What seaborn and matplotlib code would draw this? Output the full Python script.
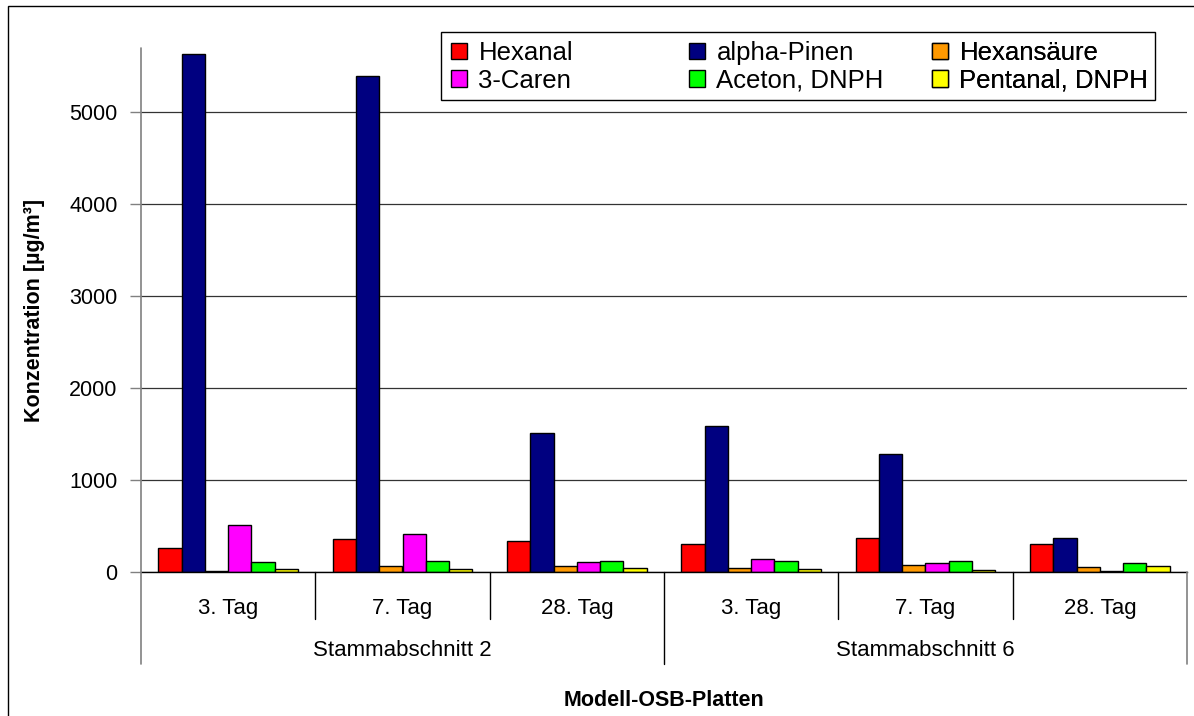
import matplotlib
matplotlib.use("Agg")
import matplotlib.pyplot as plt
import matplotlib.patches as mpatches
from matplotlib.transforms import blended_transform_factory
import pandas as pd
import seaborn as sns

# ---- data -------------------------------------------------------------
sections = ["Stammabschnitt 2", "Stammabschnitt 6"]
days = ["3. Tag", "7. Tag", "28. Tag"]
compounds = ["Hexanal", "alpha-Pinen", "Hexansäure",
             "3-Caren", "Aceton, DNPH", "Pentanal, DNPH"]
colors = ["#FF0000", "#000080", "#FF9900", "#FF00FF", "#00FF00", "#FFFF00"]

# concentrations in µg/m³, order: SA2 (3., 7., 28. Tag), SA6 (3., 7., 28. Tag)
hexanal = [265, 360, 340, 310, 372, 310]
alpha_pinen = [5630, 5390, 1510, 1590, 1280, 372]
hexansaeure = [15, 65, 60, 45, 76, 58]
caren = [515, 410, 110, 140, 94, 15]
aceton = [105, 120, 125, 120, 120, 95]
pentanal = [30, 30, 45, 30, 25, 62]

y_ticks = [0, 1000, 2000, 3000, 4000, 5000]
y_label = "Konzentration [µg/m³]"
x_label = "Modell-OSB-Platten"

series = [hexanal, alpha_pinen, hexansaeure, caren, aceton, pentanal]
samples = [f"{s} / {d}" for s in sections for d in days]
rows = []
for name, vals in zip(compounds, series):
    for smp, v in zip(samples, vals):
        rows.append({"Probe": smp, "Substanz": name, "Wert": v})
df = pd.DataFrame(rows)

# ---- style ------------------------------------------------------------
sns.set_style("white")
plt.rcParams["font.family"] = ["Liberation Sans", "DejaVu Sans"]
plt.rcParams["text.color"] = "black"
plt.rcParams["axes.labelcolor"] = "black"
plt.rcParams["xtick.color"] = "black"
plt.rcParams["ytick.color"] = "black"

W, H = 1194, 716
fig = plt.figure(figsize=(W / 100, H / 100), dpi=100)
ax_left, ax_right, ax_top, ax_bottom = 141, 1187, 48, 572
ax = fig.add_axes([ax_left / W, (H - ax_bottom) / H,
                   (ax_right - ax_left) / W, (ax_bottom - ax_top) / H])

sns.barplot(data=df, x="Probe", y="Wert", hue="Substanz",
            order=samples, hue_order=compounds, palette=colors,
            saturation=1, width=0.8, edgecolor="black", linewidth=1,
            errorbar=None, ax=ax)
if ax.get_legend() is not None:
    ax.get_legend().remove()

ax.set_xlim(-0.5, len(samples) - 0.5)
ax.set_ylim(0, 5700)
ax.set_axisbelow(True)
ax.yaxis.grid(True, color="#333333", linewidth=0.9)
ax.xaxis.grid(False)

# y axis
ax.set_yticks(y_ticks)
ax.set_yticklabels([str(t) for t in y_ticks])
ax.tick_params(axis="y", which="both", left=True, length=8, width=1,
               color="#808080", pad=9, labelsize=15.5, labelcolor="black")
ax.set_ylabel(y_label, fontsize=15.5, fontweight="bold", color="black")
ax.yaxis.set_label_coords((45 - ax_left) / (ax_right - ax_left), 0.5)

# x axis: days as tick labels, sections as second level
ax.set_xticks(range(len(samples)))
ax.set_xticklabels(days * len(sections))
ax.tick_params(axis="x", length=0, pad=18.5, labelsize=16, labelcolor="black")
ax.set_xlabel(x_label, fontsize=15.5, fontweight="bold", color="black")
ax.xaxis.label.set_va("center")
ax_h = ax_bottom - ax_top
ax.xaxis.set_label_coords(0.5, (ax_bottom - 700) / ax_h)

for side in ["top", "right", "left"]:
    ax.spines[side].set_visible(False)
ax.spines["bottom"].set_color("black")
ax.spines["bottom"].set_linewidth(1)

y_inner = (ax_bottom - 619) / ax_h
y_outer = (ax_bottom - 664) / ax_h
y_sect = (ax_bottom - 650) / ax_h

trans = blended_transform_factory(ax.transData, ax.transAxes)
# left axis line, extended through the category area
ax.plot([0, 0], [1, y_outer], transform=ax.transAxes, color="#808080",
        lw=1.2, clip_on=False, zorder=3)
ax.plot([1, 1], [0, y_outer], transform=ax.transAxes, color="#808080",
        lw=1.2, clip_on=False, zorder=3)
n_days = len(days)
for k in range(1, len(samples)):
    xb = k - 0.5
    y_end = y_outer if k % n_days == 0 else y_inner
    ax.plot([xb, xb], [0, y_end], transform=trans, color="black",
            lw=1, clip_on=False, zorder=3)

for i, sec in enumerate(sections):
    xc = i * n_days + (n_days - 1) / 2
    ax.text(xc, y_sect, sec, transform=trans, ha="center", va="center",
            fontsize=16, color="black")

# ---- legend: three columns inside one frame ------------------------------
handles = [mpatches.Patch(facecolor=c, edgecolor="black", linewidth=1,
                          label=n) for n, c in zip(compounds, colors)]
frame = mpatches.Rectangle((441 / W, (H - 100) / H), (1155 - 441) / W,
                           68 / H, transform=fig.transFigure,
                           facecolor="white", edgecolor="black", lw=1,
                           zorder=5, clip_on=False)
ax.add_artist(frame)
col_x = [451, 689, 932]
ncols = 3
for c in range(ncols):
    hs = [handles[c], handles[c + ncols]]
    leg = ax.legend(handles=hs, loc="upper left",
                    bbox_to_anchor=(col_x[c] / W, (H - 41) / H),
                    bbox_transform=fig.transFigure, frameon=False,
                    borderpad=0, borderaxespad=0, labelspacing=0.15,
                    handlelength=0.62, handleheight=0.62, handletextpad=0.45,
                    fontsize=18.5)
    leg.set_zorder(6)
    ax.add_artist(leg)

# chart border
fig.add_artist(mpatches.Rectangle((8 / W, -0.02), 1.1, (H - 6) / H + 0.02,
                                  transform=fig.transFigure, fill=False,
                                  edgecolor="black", lw=1))

fig.savefig("out.png", dpi=100)
